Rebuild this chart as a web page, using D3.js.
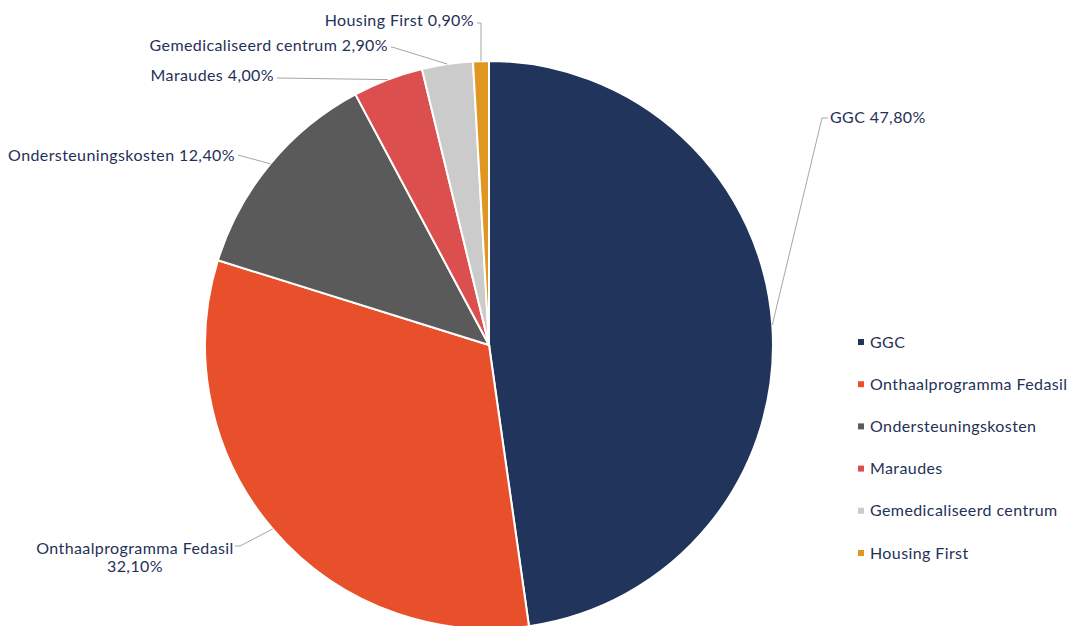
<!DOCTYPE html>
<html>
<head>
<meta charset="utf-8">
<script src="https://cdn.jsdelivr.net/npm/d3@7"></script>
<style>
  body { margin: 0; background: #fff; }
  svg text { font-family: Lato, "Open Sans", sans-serif; fill: #1f3158; letter-spacing: 0.4px; }
</style>
</head>
<body>
<div id="chart"></div>
<script>
var width = 1067
var height = 626

// data
var categories = ["GGC", "Onthaalprogramma Fedasil", "Ondersteuningskosten", "Maraudes", "Gemedicaliseerd centrum", "Housing First"]
var values = [47.8, 32.1, 12.4, 4.0, 2.9, 0.9]
var labels = ["47,80%", "32,10%", "12,40%", "4,00%", "2,90%", "0,90%"]
var colors = ["#21345c", "#e8502b", "#5a5a5a", "#dc4f4f", "#cbcbcb", "#e09620"]

// where each data label sits (text anchor point) and the elbow of its leader line
var labelPos = [
  {x: 830, y: 117, anchor: "start", elbow: [822, 118]},
  {x: 232, y: 548, anchor: "end", elbow: [240, 546], wrap: true},
  {x: 235, y: 155, anchor: "end", elbow: [238, 155]},
  {x: 274, y: 75, anchor: "end", elbow: [278, 78]},
  {x: 388, y: 45, anchor: "end", elbow: [392, 47]},
  {x: 474, y: 20, anchor: "end", elbow: [481, 23]}
]

var cx = 489, cy = 345, r = 284

var svg = d3.select("#chart").append("svg")
  .attr("width", width)
  .attr("height", height)

var pie = d3.pie().sort(null).value(function(d) { return d; })
var arcs = pie(values)
var arc = d3.arc().innerRadius(0).outerRadius(r)

var g = svg.append("g").attr("transform", "translate(" + cx + "," + cy + ")")

g.selectAll("path")
  .data(arcs)
  .enter().append("path")
  .attr("d", arc)
  .attr("fill", function(d, i) { return colors[i]; })
  .attr("stroke", "#fff")
  .attr("stroke-width", 2)

// leader lines
svg.append("g").selectAll("polyline")
  .data(arcs)
  .enter().append("polyline")
  .attr("fill", "none")
  .attr("stroke", "#a6a6a6")
  .attr("stroke-width", 1)
  .attr("points", function(d, i) {
    var a = (d.startAngle + d.endAngle) / 2
    var px = cx + r * Math.sin(a), py = cy - r * Math.cos(a)
    var p = labelPos[i]
    var hx = p.anchor == "start" ? p.x - 2 : p.x + 3
    return [[px, py], p.elbow, [hx, p.elbow[1]]].map(function(q) { return q.join(","); }).join(" ")
  })

// data labels
var lab = svg.append("g").selectAll("text")
  .data(labelPos)
  .enter().append("text")
  .attr("font-size", 16)
  .attr("text-anchor", function(d) { return d.wrap ? "middle" : d.anchor; })
  .attr("y", function(d) { return d.y; })

lab.each(function(d, i) {
  var lines = d.wrap ? [categories[i], labels[i]] : [categories[i] + " " + labels[i]]
  var tx = d.wrap ? d.x - 97 : d.x
  d3.select(this).selectAll("tspan")
    .data(lines)
    .enter().append("tspan")
    .attr("x", tx)
    .attr("dy", function(t, j) { return j == 0 ? "0.35em" : "1.15em"; })
    .text(function(t) { return t; })
})

// legend
var ly = d3.scalePoint().domain(categories).range([342, 553])

var leg = svg.append("g").selectAll("g")
  .data(categories)
  .enter().append("g")
  .attr("transform", function(d) { return "translate(858," + ly(d) + ")"; })

leg.append("rect")
  .attr("x", 0).attr("y", -3)
  .attr("width", 6).attr("height", 6)
  .attr("fill", function(d, i) { return colors[i]; })

leg.append("text")
  .attr("x", 12)
  .attr("dy", "0.35em")
  .attr("font-size", 16)
  .text(function(d) { return d; })
</script>
</body>
</html>
